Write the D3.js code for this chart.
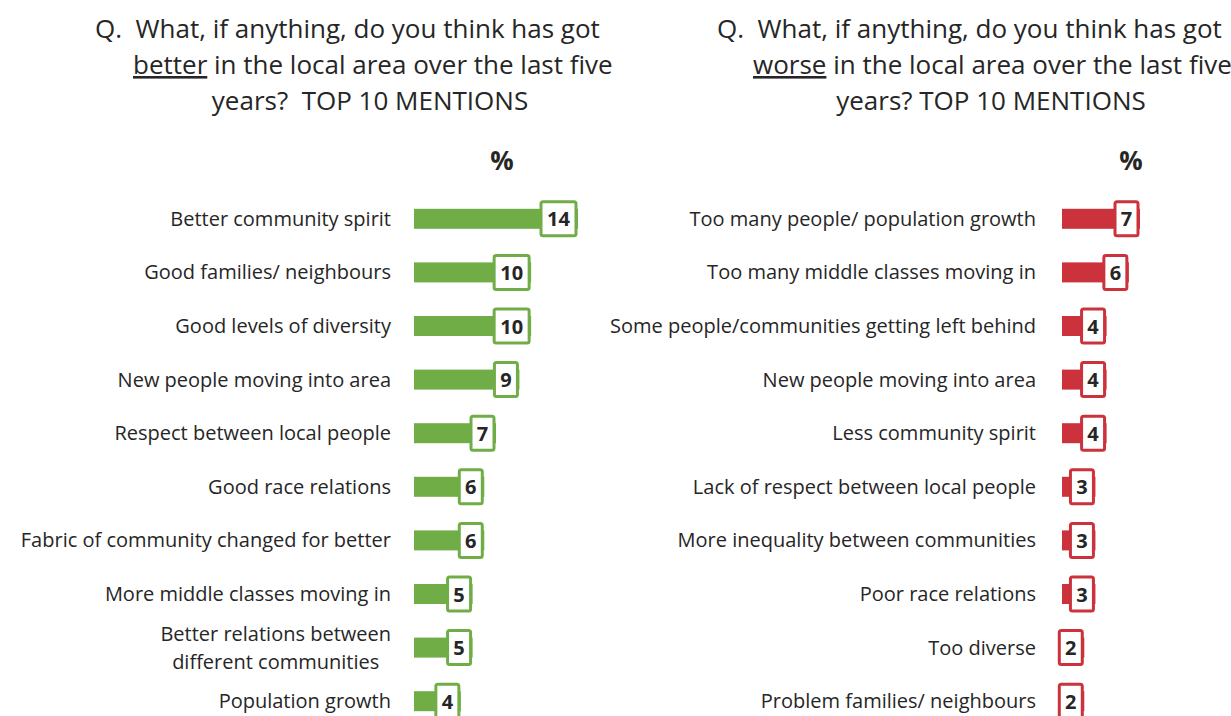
<!DOCTYPE html>
<html>
<head>
<meta charset="utf-8">
<script src="https://cdn.jsdelivr.net/npm/d3@7"></script>
<style>
  html, body { margin: 0; padding: 0; background: #fff; }
  svg { display: block; font-family: "Open Sans", "Noto Sans", sans-serif; }
  text { white-space: pre; }
</style>
</head>
<body>
<svg id="chart" width="1231" height="716"></svg>
<script>
// Top 10 mentions: what has got better
const betterCategories = [
  "Better community spirit",
  "Good families/ neighbours",
  "Good levels of diversity",
  "New people moving into area",
  "Respect between local people",
  "Good race relations",
  "Fabric of community changed for better",
  "More middle classes moving in",
  "Better relations between\ndifferent communities",
  "Population growth"
];
const betterValues = [14, 10, 10, 9, 7, 6, 6, 5, 5, 4];

// Top 10 mentions: what has got worse
const worseCategories = [
  "Too many people/ population growth",
  "Too many middle classes moving in",
  "Some people/communities getting left behind",
  "New people moving into area",
  "Less community spirit",
  "Lack of respect between local people",
  "More inequality between communities",
  "Poor race relations",
  "Too diverse",
  "Problem families/ neighbours"
];
const worseValues = [7, 6, 4, 4, 4, 3, 3, 3, 2, 2];

const betterTitle = [
  ["Q.  What, if anything, do you think has got"],
  ["better", " in the local area over the last five"],
  ["years?  TOP 10 MENTIONS"]
];
const worseTitle = [
  ["Q.  What, if anything, do you think has got"],
  ["worse", " in the local area over the last five"],
  ["years? TOP 10 MENTIONS"]
];

const svg = d3.select("#chart");
const textColor = "#262626";

function drawPanel(opts) {
  const g = svg.append("g");
  const n = opts.categories.length;

  const y = d3.scaleBand()
    .domain(d3.range(n))
    .range([192, 728]);

  const x = d3.scaleLinear()
    .domain([0, opts.maxValue])
    .range([opts.x0, opts.x1]);

  // question title, second line has the underlined key word
  opts.title.forEach((parts, i) => {
    const line = g.append("text")
      .attr("fill", textColor)
      .attr("x", opts.titleX[i])
      .attr("y", opts.titleY[i])
      .attr("text-anchor", opts.titleAnchor[i])
      .style("font-size", "26px");
    parts.forEach((p, j) => {
      const ts = line.append("tspan").text(p);
      if (i === 1 && j === 0) ts.style("text-decoration", "underline");
    });
  });

  // "%" header
  g.append("text")
    .attr("x", opts.pctX)
    .attr("y", 170)
    .attr("text-anchor", "middle")
    .attr("fill", textColor)
    .style("font-size", "26px")
    .style("font-weight", "bold")
    .text("%");

  const rows = g.selectAll("g.row")
    .data(opts.values.map((v, i) => ({ v, i, label: opts.categories[i] })))
    .join("g")
    .attr("class", "row")
    .attr("transform", d => `translate(0,${y(d.i) + y.bandwidth() / 2})`);

  // category labels (right aligned; two-line labels centred as a block)
  rows.each(function (d) {
    const row = d3.select(this);
    const lines = d.label.split("\n");
    if (lines.length === 1) {
      row.append("text")
        .attr("x", opts.labelX)
        .attr("y", 7)
        .attr("text-anchor", "end")
        .attr("fill", textColor)
        .style("font-size", "20px")
        .text(lines[0]);
    } else {
      const ts = lines.map((t, k) => row.append("text")
        .attr("y", -7 + k * 28)
        .attr("text-anchor", "middle")
        .attr("fill", textColor)
        .style("font-size", "20px")
        .text(t));
      const w = d3.max(ts, t => t.node().getComputedTextLength());
      ts.forEach(t => t.attr("x", opts.labelX - w / 2));
    }
  });

  // bars
  rows.append("rect")
    .attr("x", x(0))
    .attr("y", -10)
    .attr("width", d => x(d.v) - x(0))
    .attr("height", 20)
    .attr("fill", opts.color);

  // value boxes at the bar ends
  const boxW = d => (String(d.v).length > 1 ? 35 : 23);
  rows.append("rect")
    .attr("x", d => x(d.v) - 2 - boxW(d))
    .attr("y", -17)
    .attr("width", boxW)
    .attr("height", 34)
    .attr("rx", 2)
    .attr("fill", "#fff")
    .attr("stroke", opts.color)
    .attr("stroke-width", 3);

  rows.append("text")
    .attr("x", d => x(d.v) - 2 - boxW(d) / 2)
    .attr("y", 7.5)
    .attr("text-anchor", "middle")
    .attr("fill", textColor)
    .style("font-size", "20px")
    .style("font-weight", "bold")
    .text(d => d.v);
}

drawPanel({
  categories: betterCategories,
  values: betterValues,
  maxValue: 14,
  x0: 414, x1: 578,
  labelX: 391,
  pctX: 502,
  color: "#70AD47",
  title: betterTitle,
  titleX: [95, 133, 370],
  titleAnchor: ["start", "start", "middle"],
  titleY: [38, 74, 110]
});

drawPanel({
  categories: worseCategories,
  values: worseValues,
  maxValue: 7,
  x0: 1062, x1: 1140,
  labelX: 1036,
  pctX: 1131,
  color: "#CC323B",
  title: worseTitle,
  titleX: [717, 753, 991],
  titleAnchor: ["start", "start", "middle"],
  titleY: [38, 74, 110]
});
</script>
</body>
</html>
